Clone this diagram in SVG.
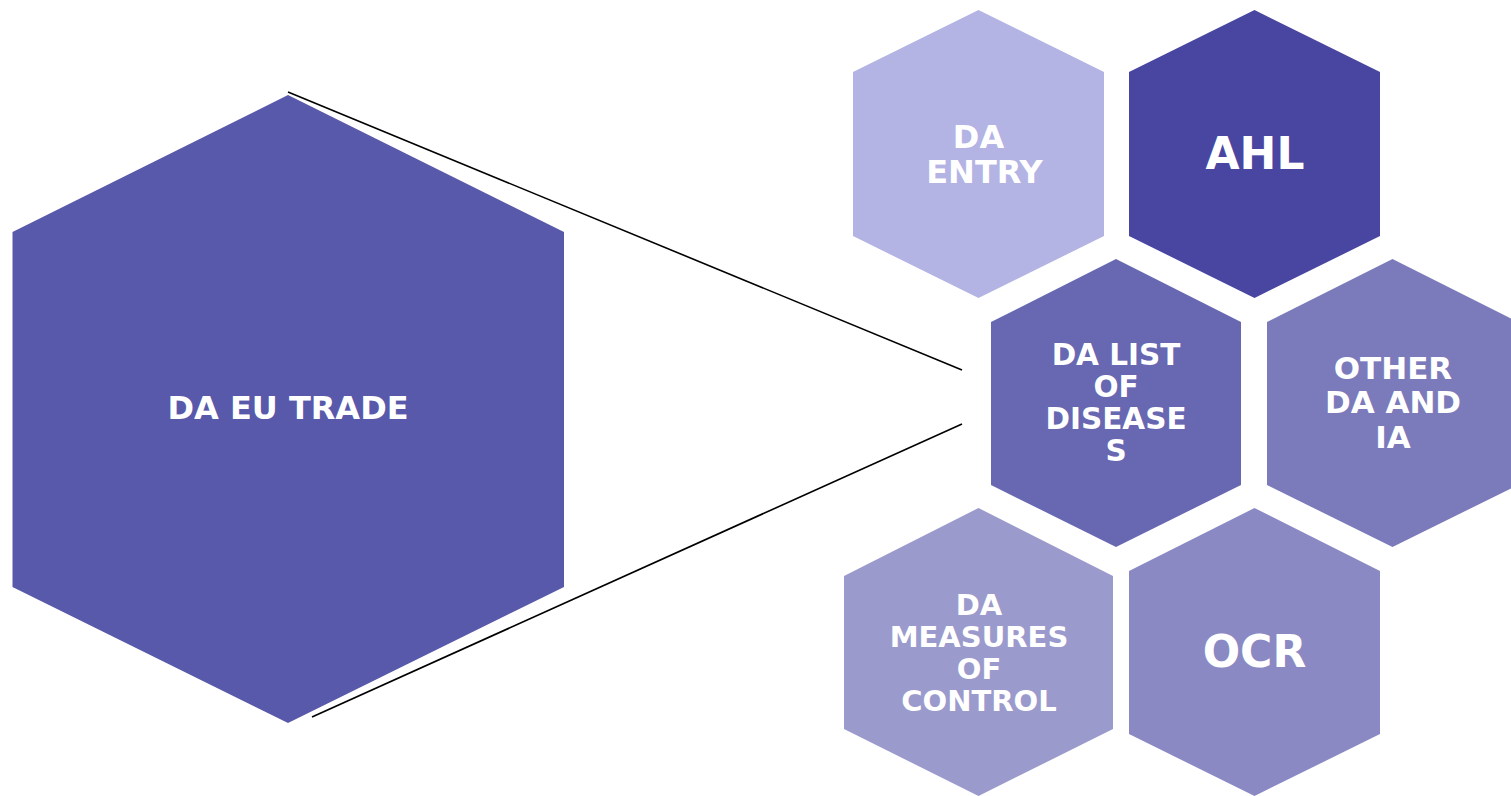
<svg xmlns="http://www.w3.org/2000/svg" width="1511" height="796" viewBox="0 0 1511 796">
<style>
.t{font-family:"DejaVu Sans",Verdana,sans-serif;font-weight:bold;fill:#ffffff;text-anchor:middle}
.conn{stroke:#000000;stroke-width:1.6;fill:none}
</style>
<rect width="1511" height="796" fill="#ffffff"/>
<g id="connectors">
<line class="conn" x1="288" y1="92" x2="962" y2="370"/>
<line class="conn" x1="312" y1="717" x2="962" y2="424"/>
</g>
<g id="node-eu-trade">
<polygon points="288,95 564,232 564,587 288,723 12.5,587 12.5,232" fill="#5859AA"/>
<text class="t" x="288" y="419" font-size="32">DA EU TRADE</text>
</g>
<g id="node-entry">
<polygon points="978.5,10 1104,72 1104,236 978.5,298 853,236 853,72" fill="#B3B3E4"/>
<text class="t" x="978.5" y="148" font-size="32">DA</text>
<text class="t" x="984.5" y="183" font-size="32">ENTRY</text>
</g>
<g id="node-ahl">
<polygon points="1254.5,10 1380,72 1380,236 1254.5,298 1129,236 1129,72" fill="#4846A0"/>
<text class="t" x="1255" y="169" font-size="44">AHL</text>
</g>
<g id="node-list">
<polygon points="1116,259 1241,322 1241,485 1116,547 991,485 991,322" fill="#6767B2"/>
<text class="t" x="1116" y="365" font-size="29.5">DA LIST</text>
<text class="t" x="1116" y="397" font-size="29.5">OF</text>
<text class="t" x="1116" y="429" font-size="29.5">DISEASE</text>
<text class="t" x="1116" y="461" font-size="29.5">S</text>
</g>
<g id="node-other">
<polygon points="1392.5,259 1518,322 1518,485 1392.5,547 1267,485 1267,322" fill="#7B7ABB"/>
<text class="t" x="1393" y="379" font-size="31">OTHER</text>
<text class="t" x="1393" y="413" font-size="31">DA AND</text>
<text class="t" x="1393" y="448" font-size="31">IA</text>
</g>
<g id="node-measures">
<polygon points="978.5,508 1113,576 1113,729 978.5,796 844,729 844,576" fill="#9B9ACC"/>
<text class="t" x="979" y="615" font-size="29">DA</text>
<text class="t" x="979" y="647" font-size="29">MEASURES</text>
<text class="t" x="979" y="679" font-size="29">OF</text>
<text class="t" x="979" y="711" font-size="29">CONTROL</text>
</g>
<g id="node-ocr">
<polygon points="1254.5,508 1380,571 1380,734 1254.5,796 1129,734 1129,571" fill="#8A89C3"/>
<text class="t" x="1254.5" y="667" font-size="44">OCR</text>
</g>
</svg>
